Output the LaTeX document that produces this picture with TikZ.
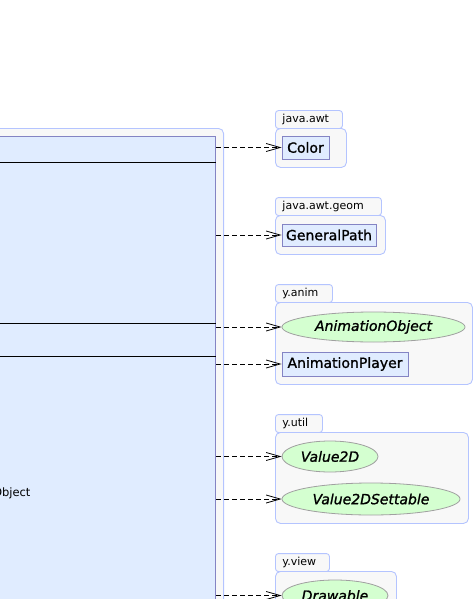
\documentclass[tikz,border=0pt]{standalone}
\usepackage{fontspec}
\setmainfont{DejaVu Sans}
\newfontfamily\umlfont[FakeBold=1.2]{DejaVu Sans}
\usetikzlibrary{shapes.geometric, arrows.meta, positioning}
\definecolor{UMLClassFill}{HTML}{E0ECFF}
\definecolor{UMLClassLine}{HTML}{8484C4}
\definecolor{UMLPkgFill}{HTML}{F8F8F8}
\definecolor{UMLPkgLine}{HTML}{B4C4FF}
\definecolor{UMLIfaceFill}{HTML}{D4FFD0}
\definecolor{UMLIfaceLine}{HTML}{A0A0A0}
\tikzset{
    % Package styles - rounded frame plus a tab on top
    pkgtab/.style={
        rectangle,
        rounded corners=3pt,
        draw=UMLPkgLine,
        fill=UMLPkgFill,
        line width=0.9pt,
        inner xsep=7pt,
        inner ysep=0pt,
        minimum height=18pt,
        align=left,
        anchor=south west,
        font=\fontsize{11}{13}\selectfont
    },
    pkgbody/.style={
        rectangle,
        rounded corners=5pt,
        draw=UMLPkgLine,
        fill=UMLPkgFill,
        line width=0.9pt,
        anchor=north west
    },
    % Class styles
    classbox/.style={
        rectangle,
        draw=UMLClassLine,
        fill=UMLClassFill,
        line width=0.9pt,
        inner sep=1pt,
        text centered,
        font=\umlfont\fontsize{14}{16}\selectfont
    },
    ifacebox/.style={
        ellipse,
        draw=UMLIfaceLine,
        fill=UMLIfaceFill,
        line width=0.8pt,
        inner sep=1pt,
        text centered,
        font=\umlfont\fontsize{14}{16}\selectfont\itshape
    },
    % Line styles
    deparrow/.style={
        -{Straight Barb[length=14pt,width=8pt]},
        dash pattern=on 5pt off 3pt,
        line width=0.8pt,
        black
    },
    divline/.style={
        black,
        line width=0.9pt
    }
}

\begin{document}
\begin{tikzpicture}[x=1pt, y=-1pt]
            \useasboundingbox (0,0) rectangle (475,599);

            % Package holding the main class
            \node[pkgbody, anchor=north east, minimum width=300pt, minimum height=600pt] (mainpkg) at (224,128) {};
            \node[classbox, anchor=north east, minimum width=290pt, minimum height=600pt] (main) at (216,136) {};
            \draw[divline] (main.west |- 0,162) -- (main.east |- 0,162);
            \draw[divline] (main.west |- 0,323) -- (main.east |- 0,323);
            \draw[divline] (main.west |- 0,356) -- (main.east |- 0,356);
            \node[font=\fontsize{11.5}{13}\selectfont, anchor=base east] (mainattr) at (34,496) {Object};

            % java.awt
            \node[pkgtab, text width=53pt] (awttab) at (275,129) {java.awt};
            \node[pkgbody, minimum width=71pt, minimum height=39pt] (awt) at (275,128) {};
            \node[classbox, minimum width=47pt, minimum height=23pt] (color) at (305.5,147.5) {Color};

            % java.awt.geom
            \node[pkgtab, text width=92pt] (geomtab) at (275,216) {java.awt.geom};
            \node[pkgbody, minimum width=110pt, minimum height=39pt] (geom) at (275,215) {};
            \node[classbox, minimum width=94pt, minimum height=22pt] (genpath) at (329,235) {GeneralPath};

            % y.anim
            \node[pkgtab, text width=43pt] (animtab) at (275,303) {y.anim};
            \node[pkgbody, minimum width=197pt, minimum height=82pt] (anim) at (275,302) {};
            \node[ifacebox, minimum width=183pt, minimum height=30pt] (animobj) at (373.5,327) {AnimationObject};
            \node[classbox, minimum width=126pt, minimum height=24pt] (animplayer) at (345,364) {AnimationPlayer};

            % y.util
            \node[pkgtab, text width=33pt] (utiltab) at (275,433) {y.util};
            \node[pkgbody, minimum width=193pt, minimum height=91pt] (util) at (275,432) {};
            \node[ifacebox, minimum width=96pt, minimum height=31pt] (value) at (330,456.5) {Value2D};
            \node[ifacebox, minimum width=178pt, minimum height=32pt] (valueset) at (371,499) {Value2DSettable};

            % y.view
            \node[pkgtab, text width=40pt] (viewtab) at (275,572) {y.view};
            \node[pkgbody, minimum width=121pt, minimum height=80pt] (view) at (275,571) {};
            \node[ifacebox, minimum width=106pt, minimum height=31pt] (drawable) at (335,595.5) {Drawable};

            % Dependencies
            \draw[deparrow] (main.east |- color.west) -- (color.west);
            \draw[deparrow] (main.east |- genpath.west) -- (genpath.west);
            \draw[deparrow] (main.east |- animobj.west) -- (animobj.west);
            \draw[deparrow] (main.east |- animplayer.west) -- (animplayer.west);
            \draw[deparrow] (main.east |- value.west) -- (value.west);
            \draw[deparrow] (main.east |- valueset.west) -- (valueset.west);
            \draw[deparrow] (main.east |- drawable.west) -- (drawable.west);
        \end{tikzpicture}
\end{document}
